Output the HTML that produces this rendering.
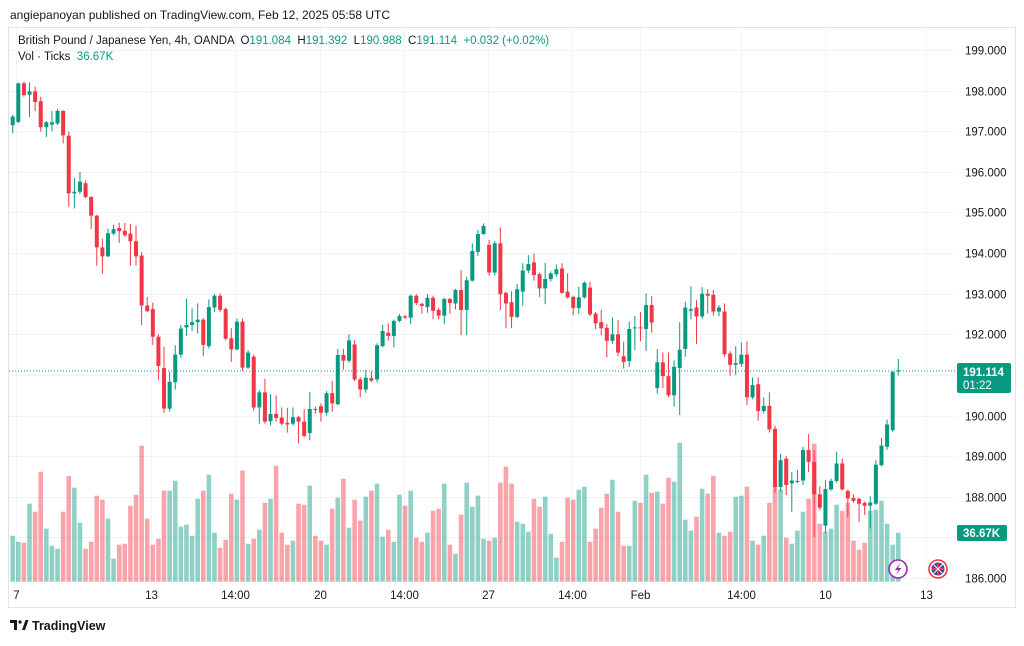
<!DOCTYPE html>
<html><head><meta charset="utf-8">
<style>
body{margin:0;background:#fff;width:1024px;height:641px;overflow:hidden;font-family:"Liberation Sans",sans-serif;}
svg text{font-family:"Liberation Sans",sans-serif;}
</style></head>
<body>
<svg id="chart" width="1024" height="641" viewBox="0 0 1024 641" xmlns="http://www.w3.org/2000/svg">
<rect x="0" y="0" width="1024" height="641" fill="#fff"/>
<text x="10" y="19" font-size="12" fill="#131722">angiepanoyan published on TradingView.com, Feb 12, 2025 05:58 UTC</text>
<rect x="8.5" y="27.5" width="1007" height="580" fill="none" stroke="#e0e3eb"/>
<g id="grid"></g>
<g id="vol"></g>
<g id="candles"></g>
<g id="yaxis"></g>
<g id="xaxis"></g>
<line x1="9" y1="371" x2="955" y2="371" stroke="#089981" stroke-dasharray="1,2"/>
<g>
<text x="18" y="44" font-size="11.5" fill="#131722">British Pound / Japanese Yen, 4h, OANDA <tspan>&#160;O</tspan><tspan fill="#089981">191.084</tspan><tspan>&#160; H</tspan><tspan fill="#089981">191.392</tspan><tspan>&#160; L</tspan><tspan fill="#089981">190.988</tspan><tspan>&#160; C</tspan><tspan fill="#089981">191.114</tspan><tspan fill="#089981">&#160; +0.032 (+0.02%)</tspan></text>
<text x="18" y="60" font-size="11.5" fill="#131722">Vol · Ticks <tspan fill="#089981">&#160;36.67K</tspan></text>
</g>
<g>
<rect x="957" y="363" width="54" height="30" rx="2" fill="#089981"/>
<text x="963" y="376" font-size="11.5" fill="#fff" font-weight="bold">191.114</text>
<text x="963" y="389" font-size="11.5" fill="#fff">01:22</text>
</g>
<g>
<rect x="957" y="525" width="50" height="16" rx="2" fill="#089981"/>
<text x="963" y="537" font-size="11.5" fill="#fff" font-weight="bold">36.67K</text>
</g>
<g>
<circle cx="898" cy="569" r="9" fill="#fff" stroke="#9c27b0" stroke-width="1.6"/>
<path d="M900 563 L895 570 L898.5 570 L896 575 L901.5 568 L898 568 Z" fill="#9c27b0"/>
</g>
<g>
<circle cx="938" cy="569" r="9" fill="#fff" stroke="#f23645" stroke-width="1.6"/>
<circle cx="938" cy="569" r="6.5" fill="#3949ab"/>
<path d="M932 569 H944 M938 563 V575" stroke="#f23645" stroke-width="2"/>
<path d="M933.5 564.5 L942.5 573.5 M942.5 564.5 L933.5 573.5" stroke="#fff" stroke-width="1"/>
</g>
<g>
<path d="M10 620 H17 V630 H14 V623 H10 Z" fill="#131722"/>
<circle cx="20" cy="622" r="1.6" fill="#131722"/>
<path d="M22 630 L25.5 620 H28.5 L25 630 Z" fill="#131722"/>
<text x="32" y="630" font-size="12.5" fill="#131722" font-weight="bold">TradingView</text>
</g>
</svg>
<script>
const opens=[197.15,197.23,198.18,197.9,197.98,197.74,197.1,197.16,197.19,197.5,196.89,195.47,195.51,195.72,195.38,194.92,194.14,193.92,194.48,194.62,194.55,194.48,194.29,193.94,192.71,192.62,191.94,
191.17,190.17,190.82,191.5,192.17,192.23,192.3,192.36,191.71,192.66,192.95,192.62,191.9,191.63,192.31,191.18,191.45,190.2,190.57,189.86,190.04,189.95,189.82,189.8,189.96,189.85,189.57,
190.16,190.23,190.07,190.55,190.28,191.49,191.35,191.75,190.89,190.64,190.92,190.89,191.71,192.04,191.96,192.33,192.44,192.41,192.95,192.75,192.67,192.9,192.6,192.46,192.87,192.76,193.09,192.6,
193.32,194.03,194.47,194.2,193.52,194.24,193.02,192.79,192.43,193.05,193.57,193.77,193.48,193.13,193.36,193.48,193.62,193.05,192.92,192.65,192.91,193.15,192.51,192.3,192.16,191.84,192.0,191.46,
191.34,192.16,192.17,192.13,192.72,190.68,191.31,190.97,190.5,191.17,191.64,192.58,192.66,192.44,193.0,192.97,192.56,192.56,191.53,191.25,191.27,191.5,190.45,190.77,190.11,190.24,189.67,
188.24,188.94,188.33,188.37,188.4,189.15,188.86,188.06,187.29,188.18,188.39,188.82,188.14,187.97,187.95,187.85,187.78,187.83,188.78,189.23,189.64,191.084];
const highs=[197.4,198.2,198.22,198.2,198.1,197.85,197.25,197.5,197.55,197.52,196.99,195.85,196.0,195.78,195.4,194.94,194.35,194.6,194.7,194.75,194.74,194.72,194.68,194.02,192.92,192.78,192.0,
191.69,191.08,191.73,192.23,192.88,192.64,192.76,192.4,192.86,192.99,193.01,192.66,192.15,192.39,192.39,191.61,191.5,190.62,190.91,190.53,190.5,190.2,190.19,190.2,189.99,190.16,190.58,
190.22,190.3,190.6,190.85,191.64,191.64,192.0,191.86,190.95,191.12,191.09,191.78,192.23,192.27,192.36,192.5,192.48,192.98,192.99,192.78,192.99,192.95,192.65,192.9,192.9,193.12,193.58,193.42,
194.24,194.57,194.73,194.32,194.3,194.63,193.05,193.06,193.24,193.75,193.95,193.99,193.52,193.76,193.55,193.72,193.75,193.5,192.95,193.17,193.3,193.29,192.55,192.6,192.25,192.42,192.35,191.82,
192.31,192.45,192.55,193.01,192.94,191.64,191.55,191.55,191.36,192.3,192.8,193.18,192.84,193.16,193.11,193.09,192.72,192.76,191.58,191.71,191.8,191.83,190.94,190.94,190.45,190.57,189.75,
189.06,189.0,188.61,188.66,189.23,189.54,189.15,188.26,188.41,188.45,189.11,188.94,188.18,188.06,187.98,187.88,188.01,188.9,189.44,189.9,191.1,191.392];
const lows=[196.95,197.2,197.85,197.35,197.5,196.99,196.86,197.0,197.15,196.7,195.14,195.1,195.45,195.35,194.59,193.69,193.49,193.9,194.44,194.25,194.4,193.69,193.69,192.22,192.55,191.74,190.87,
190.07,190.1,190.64,191.42,191.96,192.08,192.02,191.46,191.65,192.55,192.55,191.85,191.32,191.6,191.1,191.15,190.12,189.8,189.8,189.76,189.85,189.75,189.58,189.75,189.31,189.47,189.39,
190.05,189.85,190.0,190.09,190.25,191.13,191.3,190.85,190.45,190.56,190.82,190.82,191.68,191.84,191.68,192.3,192.38,192.25,192.72,192.51,192.53,192.37,192.37,192.25,192.51,192.61,191.98,191.98,
193.3,193.93,194.45,193.44,193.45,192.6,192.15,192.15,192.4,192.7,193.5,193.32,192.92,192.74,193.3,193.42,193.0,192.88,192.47,192.5,192.88,192.45,192.12,191.98,191.43,191.76,191.46,191.16,
191.2,191.61,191.83,191.59,192.04,190.54,190.68,190.45,190.22,190.01,191.45,192.37,191.76,192.37,192.51,192.46,192.45,191.45,190.98,191.0,191.2,190.26,190.4,189.87,190.05,189.58,188.1,
188.12,188.04,187.63,188.33,188.29,188.61,187.01,187.67,187.11,188.15,188.35,188.15,187.5,187.85,187.38,187.55,187.22,187.8,188.75,189.16,189.6,190.988];
const closes=[197.36,198.18,197.89,197.98,197.72,197.1,197.22,197.22,197.5,196.9,195.47,195.51,195.76,195.38,194.92,194.14,193.92,194.49,194.59,194.54,194.44,194.29,193.92,192.71,192.57,191.94,191.22,
190.17,190.83,191.5,192.14,192.23,192.3,192.36,191.74,192.67,192.95,192.6,191.89,191.63,192.31,191.18,191.55,190.2,190.57,189.85,190.04,189.94,189.8,189.78,189.96,189.85,189.5,190.16,
190.15,190.07,190.55,190.3,191.49,191.35,191.85,190.89,190.64,190.93,190.86,191.73,192.08,191.96,192.33,192.45,192.41,192.95,192.77,192.7,192.9,192.58,192.46,192.87,192.77,193.09,192.6,193.33,
194.05,194.47,194.67,193.52,194.24,192.99,192.76,192.43,193.11,193.57,193.73,193.46,193.13,193.36,193.5,193.6,193.02,192.91,192.65,192.91,193.27,192.49,192.27,192.15,191.84,192.0,191.55,191.32,
192.13,192.17,192.16,192.72,192.29,191.31,190.97,190.5,191.2,191.62,192.66,192.62,192.44,193.0,192.95,192.56,192.66,191.51,191.25,191.29,191.5,190.45,190.75,190.11,190.24,189.66,188.24,
188.9,188.29,188.4,188.39,189.15,188.86,188.06,187.73,188.19,188.39,188.82,188.18,187.96,187.9,187.83,187.78,187.86,188.79,189.26,189.78,191.07,191.114];
const volumes=[34.4,29.9,29.2,58.4,52.4,82.3,39.7,26.9,24.7,52.4,79.3,70.4,44.2,24.7,29.9,64.4,61.4,47.2,17.2,27.7,28.4,56.9,65.1,101.8,47.2,27.7,32.2,
68.1,68.1,75.6,41.2,42.7,34.4,62.1,68.1,80.1,36.7,25.4,31.4,65.9,61.4,83.1,28.4,32.2,38.9,59.1,62.1,86.8,36.7,27.7,30.7,58.4,57.6,71.9,
34.4,30.7,27.7,54.6,62.9,77.1,40.4,61.4,45.7,63.6,68.1,73.4,33.7,38.9,29.9,65.1,56.9,68.1,32.9,29.9,36.7,53.1,54.6,73.4,27.7,21.0,50.1,74.1,
56.1,64.4,32.2,30.7,32.9,74.1,86.1,73.4,44.9,43.4,37.4,62.1,56.1,63.6,35.9,18.0,29.9,62.9,61.4,68.9,71.1,29.9,39.7,55.4,65.9,76.3,52.4,26.9,
26.9,60.6,59.1,80.1,66.6,67.4,58.4,77.8,74.9,104.0,46.4,38.2,48.7,69.6,65.9,79.3,36.7,34.4,37.4,63.6,64.4,71.1,30.7,27.7,34.4,59.1,71.9,
68.9,32.9,28.4,38.2,52.4,62.1,103.3,43.4,37.4,39.7,57.6,53.1,59.1,30.7,24.0,29.2,53.1,53.9,60.6,43.4,27.7,36.67];
const priceTicks=[199,198,197,196,195,194,193,192,191,190,189,188,187,186];
const timeLabels=["7","13","14:00","20","14:00","27","14:00","Feb","14:00","10","13"];
const timeLabelIdx=[1.6,25.7,40.7,55.8,70.8,85.8,100.8,112.9,130.9,145.9,163.9];

const NS="http://www.w3.org/2000/svg";
const X0=12.7, DX=5.605;
function xAt(i){return X0+i*DX;}
function yP(p){return 50+(199-p)*40.615;}
function yV(v){return 581.7-v*1.336;}
function mk(tag,attrs,parent){const e=document.createElementNS(NS,tag);for(const k in attrs)e.setAttribute(k,attrs[k]);parent.appendChild(e);return e;}
const G=document.getElementById('grid'),V=document.getElementById('vol'),C=document.getElementById('candles'),YA=document.getElementById('yaxis'),XA=document.getElementById('xaxis');
priceTicks.forEach(p=>{
  const y=Math.round(yP(p))+0.5;
  const l=mk('line',{x1:9,x2:955,y1:y,y2:y,stroke:'#f0f3fa'},G);
  
  
  if(p!==187){
    const t=mk('text',{x:965,y:y+4,'font-size':11.5,fill:'#131722'},YA);
    t.textContent=p.toFixed(3);
    
    
  }
});
timeLabels.forEach((s,k)=>{
  const x=Math.round(xAt(timeLabelIdx[k]-1))+0.5;
  const l=mk('line',{x1:x,x2:x,y1:28,y2:582,stroke:'#f0f3fa'},G);
  
  
  const t=mk('text',{x:x,y:599,'font-size':11.5,fill:'#131722','text-anchor':'middle'},XA);
  t.textContent=s;
  
  
});
for(let i=0;i<opens.length;i++){
  const up=closes[i]>=opens[i];
  const col=up?'#089981':'#f23645';
  const x=xAt(i);
  const vb=mk('rect',{x:x-2.3,y:yV(volumes[i]),width:4.6,height:581.7-yV(volumes[i]),fill:up?'rgba(8,153,129,0.45)':'rgba(242,54,69,0.45)'},V);
  
  
  const w=mk('line',{x1:x,x2:x,y1:yP(highs[i]),y2:yP(lows[i]),stroke:col,'stroke-width':1},C);
  
  
  const top=yP(Math.max(opens[i],closes[i])),bot=yP(Math.min(opens[i],closes[i]));
  const b=mk('rect',{x:x-2,y:top,width:4,height:Math.max(1,bot-top),fill:col},C);
  
  
}
</script>
</body></html>
